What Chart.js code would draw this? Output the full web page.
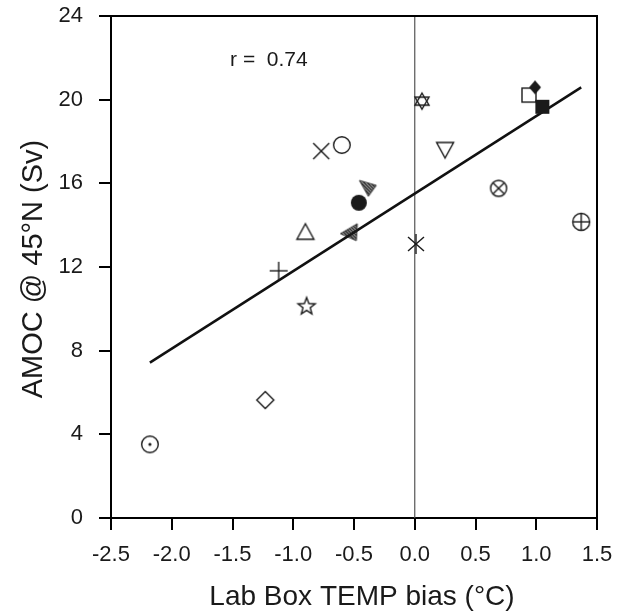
<!DOCTYPE html>
<html>
<head>
<meta charset="utf-8">
<script src="https://cdn.jsdelivr.net/npm/chart.js@4.4.0/dist/chart.umd.min.js"></script>
<style>
  html, body { margin: 0; padding: 0; background: #fff; }
</style>
</head>
<body>
<canvas id="grafico" width="629" height="612"></canvas>
<script>
// data: one model per point
const biasX = [-2.18, -1.23, -0.89, -1.12, -0.90, -0.53, -0.46, -0.39, -0.77, -0.60, 0.06, 0.25, 0.69, 1.37, 0.01, 0.94, 0.99, 1.05];
const amocY = [3.52, 5.64, 10.15, 11.82, 13.66, 13.69, 15.07, 15.76, 17.54, 17.83, 19.93, 17.62, 15.76, 14.16, 13.10, 20.22, 20.59, 19.66];
const markerKinds = ["dotcircle", "diamond", "star", "plus", "triUp", "hatchL", "dot", "hatchR", "x", "circle", "david", "triDown", "otimes", "oplus", "asterisk", "square", "diamondFill", "squareFill"];

// regression line end points and the zero line
const fitX = [-2.18, 1.37];
const fitY = [7.43, 20.59];
const zeroX = [0, 0];
const zeroY = [0, 24];

const xTicks = [-2.5, -2.0, -1.5, -1.0, -0.5, 0.0, 0.5, 1.0, 1.5];
const yTicks = [0, 4, 8, 12, 16, 20, 24];
const corrText = "r =  0.74";

const FONT = "'Liberation Sans', Arial, Helvetica, sans-serif";
const INK = "#1a1a1a";

// desenha cada marcador num canvas pequeno
const triPath = (g, pts) => {
    g.beginPath();
    g.moveTo(pts[0][0], pts[0][1]);
    for (let i = 1; i < pts.length; i++) g.lineTo(pts[i][0], pts[i][1]);
    g.closePath();
};

const hatched = (g, pts) => {
    g.save();
    triPath(g, pts);
    g.clip();
    g.lineWidth = 1.6;
    for (let k = -20; k <= 20; k += 3.2) {
        g.beginPath();
        g.moveTo(k - 12, -12);
        g.lineTo(k + 12, 12);
        g.stroke();
    }
    g.restore();
    g.lineWidth = 0.8;
    triPath(g, pts);
    g.stroke();
};

const makeMarker = (kind) => {
    const s = 26;
    const c = document.createElement("canvas");
    c.width = s; c.height = s;
    const g = c.getContext("2d");
    g.translate(s / 2, s / 2);
    g.strokeStyle = INK; g.fillStyle = INK; g.lineWidth = 1.4;
    const circ = (r) => { g.beginPath(); g.arc(0, 0, r, 0, Math.PI * 2); g.stroke(); };
    const seg = (a, b, cc, d) => { g.beginPath(); g.moveTo(a, b); g.lineTo(cc, d); g.stroke(); };
    switch (kind) {
        case "circle": circ(8.3); break;
        case "dotcircle":
            circ(8.3);
            g.beginPath(); g.arc(0, 0, 1.6, 0, Math.PI * 2); g.fill();
            break;
        case "diamond":
            triPath(g, [[0, -8.5], [8.5, 0], [0, 8.5], [-8.5, 0]]); g.stroke(); break;
        case "diamondFill":
            triPath(g, [[0, -7], [6, 0], [0, 7], [-6, 0]]); g.fill(); break;
        case "star": {
            const pts = [];
            for (let i = 0; i < 10; i++) {
                const r = i % 2 === 0 ? 9 : 3.8;
                const a = -Math.PI / 2 + i * Math.PI / 5;
                pts.push([r * Math.cos(a), r * Math.sin(a) + 0.8]);
            }
            triPath(g, pts); g.stroke();
            break;
        }
        case "plus": seg(-9, 0, 9, 0); seg(0, -9, 0, 9); break;
        case "x": seg(-8, -8, 8, 8); seg(-8, 8, 8, -8); break;
        case "asterisk": seg(-8, -7, 8, 7); seg(-8, 7, 8, -7); seg(0, -10, 0, 10); break;
        case "triUp": triPath(g, [[0, -8.5], [8.5, 7], [-8.5, 7]]); g.stroke(); break;
        case "triDown": triPath(g, [[0, 8.5], [8.5, -7], [-8.5, -7]]); g.stroke(); break;
        case "david":
            triPath(g, [[0, -8], [7, 4], [-7, 4]]); g.stroke();
            triPath(g, [[0, 8], [7, -4], [-7, -4]]); g.stroke();
            break;
        case "dot": g.beginPath(); g.arc(0, 0, 8, 0, Math.PI * 2); g.fill(); break;
        case "otimes": circ(8); seg(-5.6, -5.6, 5.6, 5.6); seg(-5.6, 5.6, 5.6, -5.6); break;
        case "oplus": circ(8.5); seg(-8.5, 0, 8.5, 0); seg(0, -8.5, 0, 8.5); break;
        case "square": g.strokeRect(-7, -7, 14, 14); break;
        case "squareFill": g.fillRect(-7, -7, 14, 14); break;
        case "hatchL": hatched(g, [[-10, 2], [7, -8], [6, 9]]); break;
        case "hatchR": hatched(g, [[-8, -8], [9, -3], [1, 8]]); break;
    }
    return c;
};

const pointSets = biasX.map((x, i) => ({
    type: "scatter",
    data: [{ x: x, y: amocY[i] }],
    pointStyle: makeMarker(markerKinds[i]),
    pointRadius: 10,
    order: 1
}));

const lineSet = (xs, ys, width, color) => ({
    type: "line",
    data: xs.map((x, i) => ({ x: x, y: ys[i] })),
    showLine: true,
    borderColor: color,
    borderWidth: width,
    pointRadius: 0,
    order: 2
});

// moldura, textos e títulos
const extras = {
    id: "extras",
    afterDraw(chart) {
        const { ctx, chartArea: a, scales } = chart;
        ctx.save();
        ctx.strokeStyle = "#000";
        ctx.lineWidth = 2;
        ctx.beginPath();
        ctx.moveTo(a.left, a.top);
        ctx.lineTo(a.right, a.top);
        ctx.lineTo(a.right, a.bottom);
        ctx.stroke();

        ctx.fillStyle = INK;
        ctx.font = "21px " + FONT;
        ctx.textAlign = "left";
        ctx.textBaseline = "middle";
        ctx.fillText(corrText, scales.x.getPixelForValue(-1.52), scales.y.getPixelForValue(21.9));

        ctx.font = "28px " + FONT;
        ctx.textAlign = "center";
        ctx.textBaseline = "alphabetic";
        ctx.fillText("Lab Box TEMP bias (\u00B0C)", (a.left + a.right) / 2 + 8, 605);

        ctx.font = "29px " + FONT;
        ctx.translate(42, (a.top + a.bottom) / 2 + 2);
        ctx.rotate(-Math.PI / 2);
        ctx.fillText("AMOC @ 45\u00B0N (Sv)", 0, 0);
        ctx.restore();
    }
};

const axisCommon = {
    type: "linear",
    grid: { drawOnChartArea: false, drawTicks: true, tickLength: 12, color: "#000", lineWidth: 2 },
    border: { display: true, color: "#000", width: 2 },
    title: { display: false }
};

new Chart(document.getElementById("grafico"), {
    type: "scatter",
    data: {
        datasets: [
            ...pointSets,
            lineSet(fitX, fitY, 2.5, "#111"),
            lineSet(zeroX, zeroY, 1.2, "#555")
        ]
    },
    options: {
        responsive: false,
        animation: false,
        layout: { padding: { left: 0, top: 16, right: 32, bottom: 0 } },
        plugins: { legend: { display: false }, tooltip: { enabled: false } },
        scales: {
            x: {
                ...axisCommon,
                min: -2.5, max: 1.5,
                afterBuildTicks: (s) => { s.ticks = xTicks.map(v => ({ value: v })); },
                afterFit: (s) => { s.height = 94; s.paddingLeft = 0; s.paddingRight = 0; },
                ticks: {
                    color: INK, padding: 12, maxRotation: 0, autoSkip: false,
                    font: { family: FONT, size: 22 },
                    callback: (v) => Number(v).toFixed(1)
                }
            },
            y: {
                ...axisCommon,
                min: 0, max: 24,
                afterBuildTicks: (s) => { s.ticks = yTicks.map(v => ({ value: v })); },
                afterFit: (s) => { s.width = 111; s.paddingTop = 0; s.paddingBottom = 0; },
                ticks: {
                    color: INK, padding: 16, autoSkip: false,
                    font: { family: FONT, size: 22 },
                    callback: (v) => String(v)
                }
            }
        }
    },
    plugins: [extras]
});
</script>
</body>
</html>
